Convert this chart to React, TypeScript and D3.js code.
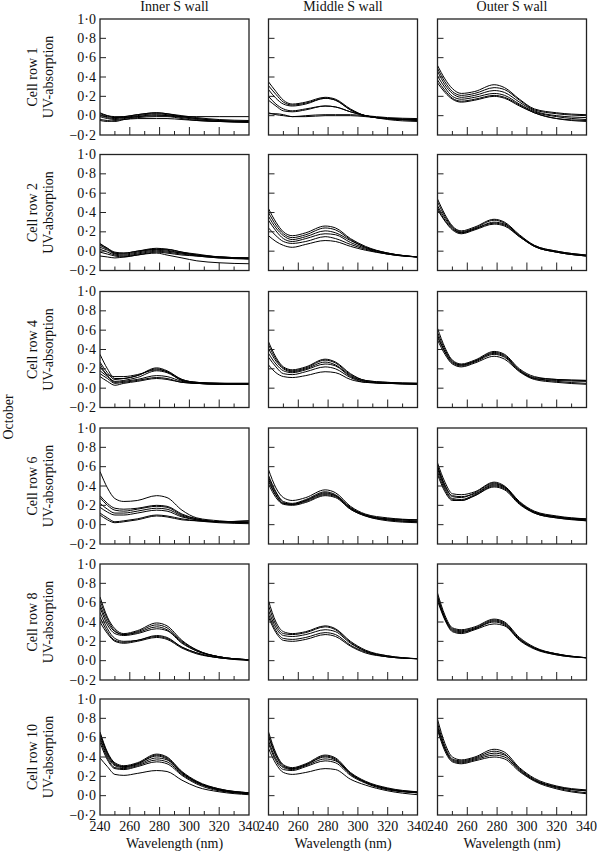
import React from "react";
import * as d3 from "d3";

// ---------- data ----------
const wavelengths = [240, 245, 250, 256, 265, 278, 285, 295, 305, 320, 340];
const walls = ["Inner S wall", "Middle S wall", "Outer S wall"];
const cellRows = ["1", "2", "4", "6", "8", "10"];
const sideLabel = "October";
const yAxisLabel = "UV-absorption";
const xAxisLabel = "Wavelength (nm)";
const xTicks = [240, 260, 280, 300, 320, 340];
const xMinorTicks = [250, 270, 290, 310, 330];
const yTicks = [-0.2, 0, 0.2, 0.4, 0.6, 0.8, 1.0];

const innerRow1 = [
  [0.02, 0.0, -0.01, -0.01, 0.01, 0.03, 0.02, 0.0, -0.02, -0.04, -0.05],
  [0.01, -0.02, -0.03, -0.02, 0.0, 0.02, 0.01, -0.01, -0.03, -0.05, -0.06],
  [-0.01, -0.03, -0.04, -0.03, -0.01, 0.01, 0.0, -0.02, -0.04, -0.06, -0.07],
  [0.0, -0.01, -0.02, -0.02, -0.01, 0.0, 0.0, -0.01, -0.01, -0.01, -0.01],
  [-0.04, -0.05, -0.06, -0.04, -0.02, -0.01, -0.01, -0.03, -0.05, -0.06, -0.07],
  [0.03, 0.0, -0.02, -0.01, 0.01, 0.03, 0.02, -0.01, -0.03, -0.05, -0.06],
  [-0.05, -0.06, -0.05, -0.04, -0.03, -0.03, -0.03, -0.04, -0.05, -0.06, -0.06],
];
const middleRow1 = [
  [0.35, 0.25, 0.16, 0.12, 0.14, 0.19, 0.17, 0.07, 0.0, -0.03, -0.04],
  [0.31, 0.22, 0.14, 0.11, 0.13, 0.18, 0.16, 0.06, 0.0, -0.03, -0.04],
  [0.27, 0.18, 0.12, 0.1, 0.12, 0.18, 0.16, 0.06, 0.0, -0.03, -0.05],
  [0.2, 0.12, 0.07, 0.05, 0.07, 0.1, 0.09, 0.04, 0.0, -0.03, -0.05],
  [0.16, 0.1, 0.05, 0.04, 0.06, 0.1, 0.09, 0.04, 0.0, -0.04, -0.06],
  [0.02, 0.02, 0.01, -0.01, 0.0, 0.01, 0.01, 0.01, 0.0, -0.02, -0.03],
  [0.03, 0.01, 0.0, -0.01, -0.01, 0.0, 0.0, 0.0, -0.01, -0.03, -0.04],
];
const outerRow1 = [
  [0.52, 0.38, 0.28, 0.23, 0.25, 0.32, 0.29, 0.17, 0.07, 0.03, 0.01],
  [0.49, 0.35, 0.25, 0.21, 0.23, 0.29, 0.27, 0.16, 0.06, 0.02, 0.0],
  [0.46, 0.32, 0.23, 0.19, 0.21, 0.26, 0.24, 0.14, 0.05, 0.0, -0.02],
  [0.41, 0.29, 0.2, 0.17, 0.19, 0.23, 0.21, 0.12, 0.04, -0.01, -0.04],
  [0.37, 0.26, 0.18, 0.15, 0.17, 0.21, 0.19, 0.11, 0.03, -0.03, -0.05],
  [0.34, 0.24, 0.17, 0.14, 0.16, 0.2, 0.18, 0.1, 0.03, -0.03, -0.06],
];

const innerRow2 = [
  [0.08, 0.03, -0.01, -0.02, 0.0, 0.03, 0.02, -0.01, -0.04, -0.06, -0.07],
  [0.06, 0.02, -0.02, -0.03, -0.01, 0.02, 0.01, -0.02, -0.04, -0.06, -0.07],
  [0.04, 0.01, -0.03, -0.04, -0.02, 0.01, 0.0, -0.02, -0.04, -0.06, -0.08],
  [0.02, -0.01, -0.04, -0.05, -0.03, 0.0, -0.01, -0.03, -0.05, -0.07, -0.08],
  [-0.01, -0.03, -0.05, -0.06, -0.04, -0.01, -0.02, -0.04, -0.05, -0.07, -0.08],
  [-0.05, -0.06, -0.07, -0.06, -0.04, -0.02, -0.04, -0.07, -0.1, -0.12, -0.13],
  [0.07, 0.03, -0.02, -0.02, 0.0, 0.02, 0.02, -0.01, -0.03, -0.06, -0.07],
];
const middleRow2 = [
  [0.44, 0.3, 0.2, 0.16, 0.19, 0.26, 0.24, 0.13, 0.05, -0.02, -0.06],
  [0.4, 0.27, 0.18, 0.14, 0.17, 0.24, 0.22, 0.12, 0.04, -0.02, -0.06],
  [0.36, 0.24, 0.16, 0.12, 0.15, 0.21, 0.19, 0.11, 0.04, -0.02, -0.06],
  [0.32, 0.21, 0.13, 0.1, 0.13, 0.18, 0.17, 0.09, 0.03, -0.03, -0.06],
  [0.24, 0.16, 0.1, 0.08, 0.1, 0.15, 0.13, 0.07, 0.02, -0.03, -0.06],
  [0.16, 0.1, 0.06, 0.04, 0.07, 0.11, 0.1, 0.05, 0.01, -0.03, -0.06],
];
const outerRow2 = [
  [0.54, 0.38, 0.26, 0.21, 0.25, 0.33, 0.3, 0.17, 0.06, 0.0, -0.04],
  [0.51, 0.36, 0.25, 0.2, 0.24, 0.32, 0.29, 0.16, 0.06, 0.0, -0.04],
  [0.47, 0.34, 0.24, 0.19, 0.23, 0.3, 0.28, 0.16, 0.05, -0.01, -0.05],
  [0.43, 0.31, 0.22, 0.18, 0.22, 0.28, 0.26, 0.15, 0.05, -0.01, -0.05],
  [0.45, 0.32, 0.23, 0.19, 0.23, 0.29, 0.27, 0.15, 0.05, -0.01, -0.05],
];

const innerRow4 = [
  [0.35, 0.2, 0.1, 0.1, 0.13, 0.21, 0.18, 0.09, 0.06, 0.05, 0.05],
  [0.27, 0.16, 0.09, 0.1, 0.13, 0.2, 0.17, 0.09, 0.06, 0.05, 0.04],
  [0.22, 0.13, 0.07, 0.08, 0.11, 0.18, 0.16, 0.08, 0.05, 0.05, 0.04],
  [0.18, 0.12, 0.06, 0.07, 0.09, 0.13, 0.12, 0.07, 0.05, 0.04, 0.04],
  [0.15, 0.1, 0.05, 0.06, 0.08, 0.11, 0.1, 0.06, 0.05, 0.04, 0.04],
  [0.12, 0.07, 0.03, 0.05, 0.07, 0.1, 0.09, 0.06, 0.05, 0.04, 0.04],
  [0.25, 0.14, 0.12, 0.12, 0.14, 0.19, 0.17, 0.08, 0.06, 0.05, 0.05],
];
const middleRow4 = [
  [0.48, 0.32, 0.22, 0.19, 0.22, 0.3, 0.27, 0.15, 0.08, 0.06, 0.05],
  [0.45, 0.3, 0.21, 0.18, 0.21, 0.29, 0.26, 0.14, 0.08, 0.06, 0.05],
  [0.41, 0.28, 0.2, 0.17, 0.2, 0.27, 0.24, 0.13, 0.07, 0.05, 0.05],
  [0.36, 0.25, 0.18, 0.16, 0.19, 0.25, 0.23, 0.12, 0.07, 0.05, 0.04],
  [0.32, 0.22, 0.15, 0.14, 0.17, 0.22, 0.2, 0.11, 0.06, 0.05, 0.04],
  [0.24, 0.16, 0.12, 0.11, 0.13, 0.17, 0.16, 0.09, 0.06, 0.05, 0.04],
];
const outerRow4 = [
  [0.62, 0.42, 0.29, 0.25, 0.29, 0.38, 0.35, 0.2, 0.12, 0.09, 0.08],
  [0.58, 0.4, 0.28, 0.24, 0.28, 0.37, 0.34, 0.19, 0.11, 0.09, 0.08],
  [0.53, 0.37, 0.26, 0.23, 0.27, 0.35, 0.32, 0.18, 0.1, 0.08, 0.07],
  [0.5, 0.35, 0.25, 0.22, 0.26, 0.33, 0.3, 0.17, 0.09, 0.06, 0.04],
  [0.55, 0.38, 0.27, 0.24, 0.28, 0.36, 0.33, 0.18, 0.1, 0.07, 0.05],
];

const innerRow6 = [
  [0.55, 0.38, 0.27, 0.24, 0.25, 0.3, 0.28, 0.15, 0.07, 0.04, 0.02],
  [0.3, 0.22, 0.17, 0.16, 0.17, 0.2, 0.19, 0.11, 0.06, 0.03, 0.02],
  [0.28, 0.2, 0.15, 0.14, 0.16, 0.19, 0.18, 0.1, 0.06, 0.03, 0.03],
  [0.22, 0.16, 0.12, 0.12, 0.14, 0.17, 0.16, 0.09, 0.05, 0.03, 0.02],
  [0.18, 0.13, 0.1, 0.1, 0.12, 0.15, 0.14, 0.08, 0.05, 0.03, 0.04],
  [0.12, 0.07, 0.03, 0.04, 0.06, 0.1, 0.09, 0.06, 0.04, 0.02, 0.01],
  [0.1, 0.05, 0.02, 0.03, 0.05, 0.09, 0.08, 0.05, 0.04, 0.03, 0.04],
];
const middleRow6 = [
  [0.57, 0.38, 0.28, 0.25, 0.28, 0.36, 0.33, 0.19, 0.11, 0.07, 0.05],
  [0.51, 0.34, 0.24, 0.22, 0.26, 0.34, 0.31, 0.18, 0.1, 0.06, 0.04],
  [0.47, 0.31, 0.22, 0.21, 0.25, 0.33, 0.3, 0.17, 0.1, 0.05, 0.03],
  [0.42, 0.28, 0.21, 0.2, 0.23, 0.3, 0.28, 0.16, 0.09, 0.04, 0.02],
  [0.45, 0.3, 0.22, 0.21, 0.24, 0.31, 0.29, 0.16, 0.09, 0.05, 0.03],
  [0.49, 0.33, 0.23, 0.21, 0.25, 0.32, 0.3, 0.17, 0.1, 0.06, 0.05],
];
const outerRow6 = [
  [0.64, 0.44, 0.32, 0.31, 0.34, 0.44, 0.4, 0.24, 0.14, 0.09, 0.06],
  [0.61, 0.41, 0.29, 0.28, 0.33, 0.43, 0.39, 0.23, 0.13, 0.08, 0.05],
  [0.58, 0.38, 0.27, 0.26, 0.31, 0.41, 0.38, 0.22, 0.13, 0.08, 0.04],
  [0.52, 0.34, 0.25, 0.25, 0.3, 0.39, 0.36, 0.21, 0.12, 0.07, 0.04],
  [0.55, 0.36, 0.26, 0.25, 0.3, 0.4, 0.37, 0.22, 0.12, 0.07, 0.05],
  [0.6, 0.4, 0.3, 0.29, 0.32, 0.42, 0.39, 0.23, 0.13, 0.08, 0.06],
];

const innerRow8 = [
  [0.66, 0.45, 0.33, 0.28, 0.31, 0.39, 0.36, 0.21, 0.11, 0.04, 0.01],
  [0.62, 0.43, 0.31, 0.27, 0.3, 0.37, 0.34, 0.2, 0.11, 0.04, 0.01],
  [0.58, 0.4, 0.3, 0.27, 0.29, 0.35, 0.32, 0.19, 0.1, 0.04, 0.01],
  [0.5, 0.33, 0.23, 0.2, 0.21, 0.26, 0.24, 0.14, 0.08, 0.03, 0.01],
  [0.45, 0.3, 0.21, 0.19, 0.21, 0.25, 0.23, 0.14, 0.08, 0.03, 0.01],
  [0.4, 0.28, 0.2, 0.18, 0.2, 0.24, 0.22, 0.13, 0.07, 0.03, 0.0],
  [0.55, 0.37, 0.28, 0.26, 0.28, 0.33, 0.31, 0.18, 0.1, 0.04, 0.01],
];
const middleRow8 = [
  [0.62, 0.4, 0.3, 0.28, 0.3, 0.36, 0.33, 0.2, 0.11, 0.05, 0.02],
  [0.57, 0.37, 0.28, 0.27, 0.29, 0.35, 0.32, 0.19, 0.1, 0.05, 0.02],
  [0.52, 0.34, 0.26, 0.25, 0.27, 0.32, 0.3, 0.18, 0.1, 0.04, 0.02],
  [0.48, 0.31, 0.23, 0.22, 0.24, 0.29, 0.27, 0.16, 0.09, 0.04, 0.02],
  [0.45, 0.29, 0.21, 0.2, 0.22, 0.27, 0.25, 0.15, 0.08, 0.04, 0.02],
];
const outerRow8 = [
  [0.7, 0.47, 0.34, 0.32, 0.35, 0.43, 0.4, 0.24, 0.14, 0.07, 0.03],
  [0.67, 0.45, 0.33, 0.31, 0.34, 0.42, 0.39, 0.23, 0.13, 0.07, 0.03],
  [0.64, 0.43, 0.31, 0.29, 0.33, 0.4, 0.37, 0.22, 0.13, 0.06, 0.03],
  [0.62, 0.42, 0.3, 0.28, 0.32, 0.38, 0.36, 0.21, 0.12, 0.06, 0.03],
  [0.66, 0.44, 0.32, 0.3, 0.33, 0.41, 0.38, 0.22, 0.13, 0.07, 0.03],
];

const innerRow10 = [
  [0.66, 0.45, 0.34, 0.31, 0.34, 0.43, 0.4, 0.25, 0.15, 0.07, 0.03],
  [0.63, 0.43, 0.32, 0.3, 0.33, 0.41, 0.38, 0.24, 0.14, 0.07, 0.03],
  [0.6, 0.41, 0.31, 0.29, 0.32, 0.39, 0.37, 0.23, 0.14, 0.06, 0.03],
  [0.58, 0.39, 0.29, 0.28, 0.31, 0.37, 0.35, 0.22, 0.13, 0.06, 0.02],
  [0.55, 0.37, 0.28, 0.27, 0.3, 0.35, 0.33, 0.21, 0.12, 0.05, 0.02],
  [0.39, 0.3, 0.22, 0.21, 0.23, 0.26, 0.25, 0.16, 0.09, 0.04, 0.01],
  [0.64, 0.44, 0.33, 0.3, 0.33, 0.42, 0.39, 0.24, 0.14, 0.06, 0.02],
];
const middleRow10 = [
  [0.66, 0.44, 0.32, 0.29, 0.33, 0.42, 0.39, 0.24, 0.15, 0.08, 0.04],
  [0.61, 0.41, 0.3, 0.28, 0.32, 0.4, 0.37, 0.23, 0.14, 0.07, 0.04],
  [0.57, 0.38, 0.29, 0.27, 0.31, 0.38, 0.36, 0.22, 0.14, 0.07, 0.03],
  [0.54, 0.36, 0.27, 0.26, 0.3, 0.36, 0.34, 0.21, 0.13, 0.06, 0.03],
  [0.49, 0.33, 0.24, 0.22, 0.24, 0.28, 0.27, 0.17, 0.11, 0.05, 0.01],
  [0.63, 0.42, 0.31, 0.28, 0.32, 0.41, 0.38, 0.23, 0.14, 0.07, 0.03],
];
const outerRow10 = [
  [0.79, 0.54, 0.4, 0.37, 0.4, 0.48, 0.45, 0.29, 0.18, 0.1, 0.06],
  [0.75, 0.51, 0.38, 0.36, 0.39, 0.46, 0.43, 0.28, 0.17, 0.09, 0.05],
  [0.72, 0.49, 0.37, 0.35, 0.38, 0.44, 0.42, 0.27, 0.16, 0.09, 0.05],
  [0.7, 0.48, 0.36, 0.34, 0.37, 0.42, 0.4, 0.26, 0.16, 0.08, 0.03],
  [0.68, 0.46, 0.35, 0.33, 0.36, 0.4, 0.38, 0.25, 0.15, 0.07, 0.02],
];

const panelData = [
  [innerRow1, middleRow1, outerRow1],
  [innerRow2, middleRow2, outerRow2],
  [innerRow4, middleRow4, outerRow4],
  [innerRow6, middleRow6, outerRow6],
  [innerRow8, middleRow8, outerRow8],
  [innerRow10, middleRow10, outerRow10],
];

// ---------- layout ----------
const W = 597;
const H = 853;
const colLeft = [100, 268.5, 437.5];
const rowTop = [19, 154.5, 291.5, 428, 564, 699];
const panelW = 149;
const panelH = 116;
const FS = 14;
const FONT = "'Liberation Serif', 'Times New Roman', serif";

const fmt = (v: number) => {
  const s = Math.abs(v).toFixed(1).replace(".", "\u00B7");
  return v < -1e-9 ? "\u2212" + s : s;
};

export default function App() {
  const x = d3.scaleLinear().domain([240, 340]).range([0, panelW]);
  const y = d3.scaleLinear().domain([-0.2, 1.0]).range([panelH, 0]);
  const line = d3
    .line<number>()
    .x((_, i) => x(wavelengths[i]))
    .y((d) => y(d))
    .curve(d3.curveMonotoneX);

  return (
    <svg
      width={W}
      height={H}
      style={{ position: "absolute", left: 0, top: 0, background: "#fff" }}
      fontFamily={FONT}
    >
      <rect x={0} y={0} width={W} height={H} fill="#fff" />
      {walls.map((t, c) => (
        <text key={t} x={colLeft[c] + panelW / 2} y={11} textAnchor="middle" fontSize={FS} fill="#111">
          {t}
        </text>
      ))}
      <text
        transform={`translate(13, ${(rowTop[0] + rowTop[5] + panelH) / 2}) rotate(-90)`}
        textAnchor="middle"
        fontSize={FS}
        fill="#111"
      >
        {sideLabel}
      </text>
      {panelData.map((row, r) => (
        <g key={r}>
          <text
            transform={`translate(37, ${rowTop[r] + panelH / 2}) rotate(-90)`}
            textAnchor="middle"
            fontSize={FS}
            fill="#111"
          >
            {`Cell row ${cellRows[r]}`}
          </text>
          <text
            transform={`translate(53, ${rowTop[r] + panelH / 2}) rotate(-90)`}
            textAnchor="middle"
            fontSize={FS}
            fill="#111"
          >
            {yAxisLabel}
          </text>
          {yTicks.map((t) => (
            <text
              key={t}
              x={colLeft[0] - 4}
              y={rowTop[r] + y(t) + 4.5}
              textAnchor="end"
              fontSize={FS}
              fill="#111"
            >
              {fmt(t)}
            </text>
          ))}
          {row.map((curves, c) => (
            <g key={c} transform={`translate(${colLeft[c]}, ${rowTop[r]})`}>
              <clipPath id={`clip-${r}-${c}`}>
                <rect x={0} y={0} width={panelW} height={panelH} />
              </clipPath>
              <g clipPath={`url(#clip-${r}-${c})`}>
                {curves.map((vals, k) => (
                  <path key={k} d={line(vals) || ""} fill="none" stroke="#000" strokeWidth={1} />
                ))}
              </g>
              {yTicks.slice(1, -1).map((t) => (
                <line key={t} x1={0} x2={6} y1={y(t)} y2={y(t)} stroke="#222" strokeWidth={1} />
              ))}
              {xTicks.slice(1, -1).map((t) => (
                <line key={t} x1={x(t)} x2={x(t)} y1={panelH} y2={panelH - 8} stroke="#222" strokeWidth={1} />
              ))}
              {xMinorTicks.map((t) => (
                <line key={t} x1={x(t)} x2={x(t)} y1={panelH} y2={panelH - 4} stroke="#222" strokeWidth={1} />
              ))}
              <rect x={0} y={0} width={panelW} height={panelH} fill="none" stroke="#222" strokeWidth={1.3} />
              {r === panelData.length - 1 && (
                <g>
                  {xTicks.map((t) => (
                    <text key={t} x={x(t)} y={panelH + 16} textAnchor="middle" fontSize={FS} fill="#111">
                      {t}
                    </text>
                  ))}
                  <text x={panelW / 2} y={panelH + 33} textAnchor="middle" fontSize={FS} fill="#111">
                    {xAxisLabel}
                  </text>
                </g>
              )}
            </g>
          ))}
        </g>
      ))}
    </svg>
  );
}
